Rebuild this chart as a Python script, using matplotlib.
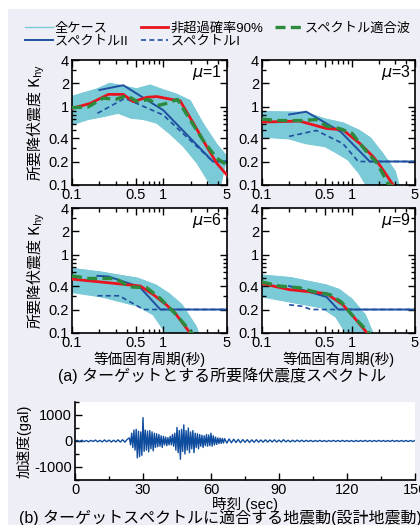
import matplotlib
matplotlib.use("Agg")
import matplotlib.pyplot as plt
import numpy as np
from matplotlib.patches import Rectangle
from matplotlib.ticker import FixedLocator, NullFormatter, MultipleLocator

plt.rcParams["font.family"] = ["Liberation Sans", "Noto Sans CJK JP"]
plt.rcParams["axes.unicode_minus"] = False

# ---- spectra data: period T (s), required yield coefficient K ----
mu_values = [1, 3, 6, 9]

# envelope of all cases (upper / lower edge)
all_upper_T = [
    [0.1, 0.19, 0.26, 0.365, 0.51, 0.72, 1.0, 1.4, 1.97, 2.75, 3.86, 5.0],
    [0.1, 0.3, 0.5, 0.8, 1.2, 1.6, 2.2, 3.0, 3.4],
    [0.1, 0.21, 0.53, 0.83, 1.15, 1.6, 2.3, 2.5],
    [0.1, 0.21, 0.52, 0.72, 1.0, 1.4, 1.7, 1.8],
]
all_upper_K = [
    [1.36, 1.7, 2.0, 1.85, 1.7, 1.9, 1.65, 1.45, 1.2, 0.6, 0.33, 0.23],
    [0.87, 0.85, 0.7, 0.62, 0.5, 0.4, 0.25, 0.15, 0.09],
    [0.67, 0.6, 0.5, 0.41, 0.32, 0.23, 0.12, 0.09],
    [0.55, 0.51, 0.41, 0.36, 0.27, 0.17, 0.1, 0.09],
]
all_lower_T = [
    [0.1, 0.15, 0.23, 0.32, 0.44, 0.61, 0.85, 1.19, 1.67, 2.35, 3.3, 4.0],
    [0.1, 0.2, 0.3, 0.5, 0.7, 0.9, 1.2, 1.5],
    [0.1, 0.21, 0.53, 0.78, 1.0, 1.1],
    [0.1, 0.2, 0.46, 0.66, 0.85, 0.9],
]
all_lower_K = [
    [0.59, 0.69, 0.76, 0.83, 0.72, 0.69, 0.62, 0.45, 0.31, 0.19, 0.1, 0.07],
    [0.41, 0.39, 0.34, 0.31, 0.25, 0.21, 0.14, 0.09],
    [0.33, 0.29, 0.22, 0.17, 0.11, 0.09],
    [0.29, 0.25, 0.21, 0.16, 0.1, 0.09],
]

# 90% non-exceedance
p90_T = [
    [0.1, 0.158, 0.25, 0.365, 0.47, 0.66, 0.85, 1.19, 1.53, 2.14, 3.0, 3.86, 5.0],
    [0.1, 0.26, 0.52, 0.79, 1.22, 1.72, 2.1, 2.86, 3.0],
    [0.1, 0.21, 0.56, 0.78, 1.08, 1.35, 1.97, 2.1],
    [0.1, 0.2, 0.52, 0.79, 1.0, 1.47, 1.6],
]
p90_K = [
    [0.96, 1.11, 1.45, 1.45, 1.17, 1.33, 1.36, 1.26, 1.2, 0.62, 0.31, 0.19, 0.134],
    [0.64, 0.66, 0.53, 0.51, 0.34, 0.23, 0.17, 0.1, 0.09],
    [0.49, 0.45, 0.40, 0.31, 0.23, 0.18, 0.1, 0.09],
    [0.43, 0.36, 0.32, 0.23, 0.17, 0.1, 0.09],
]

# spectrum-compatible wave
fit_T = [
    [0.1, 0.15, 0.22, 0.3, 0.4, 0.52, 0.69, 0.9, 1.05, 1.43, 1.96, 2.75, 3.86, 5.0],
    [0.1, 0.15, 0.28, 0.4, 0.52, 0.72, 1.0, 1.4, 1.9, 2.5, 3.1],
    [0.1, 0.15, 0.3, 0.43, 0.66, 0.92, 1.4, 2.05, 2.2],
    [0.1, 0.156, 0.26, 0.37, 0.57, 0.76, 1.0, 1.55, 1.65],
]
fit_K = [
    [0.98, 1.0, 1.3, 1.25, 1.4, 1.17, 1.25, 1.05, 1.1, 1.25, 0.69, 0.37, 0.22, 0.18],
    [0.70, 0.67, 0.67, 0.69, 0.57, 0.53, 0.46, 0.28, 0.19, 0.105, 0.09],
    [0.54, 0.5, 0.5, 0.39, 0.38, 0.28, 0.17, 0.1, 0.09],
    [0.45, 0.4, 0.38, 0.34, 0.31, 0.25, 0.17, 0.1, 0.09],
]

# design spectrum II / I
spec2_T = [
    [0.2, 0.365, 1.0, 3.5, 5.0],
    [0.2, 0.31, 0.75, 1.57, 5.0],
    [0.19, 0.25, 0.55, 0.93, 5.0],
    [0.2, 0.52, 0.7, 5.0],
]
spec2_K = [
    [1.65, 1.9, 0.91, 0.2, 0.2],
    [0.8, 0.87, 0.48, 0.2, 0.2],
    [0.54, 0.53, 0.39, 0.2, 0.2],
    [0.40, 0.29, 0.2, 0.2],
]
spec1_T = [
    [0.19, 0.38, 1.0, 3.5, 5.0],
    [0.2, 0.4, 0.79, 1.17, 5.0],
    [0.19, 0.33, 0.61, 5.0],
    [0.2, 0.28, 0.35, 5.0],
]
spec1_K = [
    [0.83, 1.29, 0.79, 0.2, 0.2],
    [0.42, 0.5, 0.34, 0.2, 0.2],
    [0.3, 0.3, 0.2, 0.2],
    [0.23, 0.22, 0.2, 0.2],
]

# ---- design ground motion: alternating peak accelerations (gal) ----
wave_quiet1 = [0, 25, -20, 30, -25, 20, -30, 25, -20, 35, -30, 25, -35, 40,
               -30, 35, -40, 30, -35, 45, -40, 50, -45, 60]
wave_strong = [120, -150, 300, -250, 420, -350, 450, -650, 380, -600, 350,
               -550, 900, -400, 420, -350, 380, -420, 400, -300, 350, -380,
               300, -250, 280, -220, 250, -200, 200, -250, 180, -150, 150,
               -180, 130, -150, 180, -150, 250, -200, 300, -350, 520, -450,
               400, -700, 450, -400, 620, -500, 400, -350, 500, -450, 350,
               -300, 400, -450, 300, -250, 280, -300, 250, -200, 220, -250,
               200, -180, 250, -200, 230, -180, 300, -200, 200, -150, 150,
               -130, 120, -100, 110, -90, 100, -80]
wave_quiet2 = [90, -80, 80, -70, 70, -60, 60, -65, 55, -50, 50, -55, 45, -50,
               50, -45, 40, -45, 45, -40, 40, -35, 45, -40, 35, -40, 50, -35,
               30, -35, 30, -30, 35, -25, 30, -25, 25, -20, 25, -25, 20, -20,
               25, -20, 20, -25, 20, -20, 25, -20, 20, -20, 25, -20, 20, -20,
               20, -25, 20, -20, 20, -20, 25, -20, 20, -20, 20, -20, 25, -20,
               20, -20, 20, -20, 25, -20, 20, -20, 20, -20, 20, -20, 20, -20,
               20]

C_ALL = "#7BCAD7"
C_P90 = "#E8131E"
C_FIT = "#2B8A3C"
C_SPEC = "#1F4FA0"
C_WAVE = "#0E4C9E"

fig = plt.figure(figsize=(4.2, 5.25), dpi=100)
fig.patch.set_facecolor("white")
fig.patches.append(Rectangle((8 / 420, 0), 1, 1 - 9 / 525, transform=fig.transFigure,
                             facecolor="#EEEEF6", edgecolor="none", zorder=-10))

W, H = 420.0, 525.0
boxes = [(72, 60, 227, 185), (262, 60, 415, 185),
         (72, 208, 227, 333), (262, 208, 415, 333)]

lines_for_legend = []
for i, (x0, y0, x1, y1) in enumerate(boxes):
    ax = fig.add_axes([x0 / W, 1 - y1 / H, (x1 - x0) / W, (y1 - y0) / H])
    ax.set_facecolor("white")
    poly_T = list(all_upper_T[i]) + list(all_lower_T[i])[::-1]
    poly_K = list(all_upper_K[i]) + list(all_lower_K[i])[::-1]
    ax.fill(poly_T, poly_K, color=C_ALL, lw=0.8, zorder=1)
    la, = ax.plot(all_upper_T[i], all_upper_K[i], color=C_ALL, lw=1.0, zorder=1)
    l2, = ax.plot(spec2_T[i], spec2_K[i], color=C_SPEC, lw=1.4, zorder=2)
    l1, = ax.plot(spec1_T[i], spec1_K[i], color=C_SPEC, lw=1.2,
                  ls=(0, (3, 2)), zorder=2)
    lp, = ax.plot(p90_T[i], p90_K[i], color=C_P90, lw=2.0, zorder=3)
    lf, = ax.plot(fit_T[i], fit_K[i], color=C_FIT, lw=2.4,
                  ls=(0, (3, 1.6)), zorder=4)
    lines_for_legend = [la, l2, lp, l1, lf]

    ax.set_xscale("log")
    ax.set_yscale("log")
    ax.set_xlim(0.1, 5)
    ax.set_ylim(0.1, 4)
    ax.xaxis.set_major_locator(FixedLocator([0.1, 0.5, 1, 5]))
    ax.xaxis.set_minor_locator(FixedLocator([0.2, 0.3, 0.4, 0.6, 0.7, 0.8, 0.9, 2, 3, 4]))
    ax.set_xticklabels(["0.1", "0.5", "1", "5"])
    ax.xaxis.set_minor_formatter(NullFormatter())
    ax.yaxis.set_major_locator(FixedLocator([0.1, 0.2, 0.4, 1, 2, 4]))
    ax.set_yticklabels(["0.1", "0.2", "0.4", "1", "2", "4"])
    ax.yaxis.set_minor_locator(FixedLocator([0.3, 0.5, 0.6, 0.7, 0.8, 0.9, 3]))
    ax.yaxis.set_minor_formatter(NullFormatter())
    ax.tick_params(which="both", direction="in", top=True, right=True,
                   labelsize=10.5, pad=2, width=1.0)
    ax.tick_params(which="major", length=5)
    ax.tick_params(which="minor", length=3)
    for sp in ax.spines.values():
        sp.set_linewidth(1.2)
    ax.text(0.97, 0.9, rf"$\mu$=$\mathregular{{{mu_values[i]}}}$",
            transform=ax.transAxes, ha="right", va="center", fontsize=11.5)
    if i % 2 == 0:
        ax.set_ylabel("所要降伏震度 K$_\\mathregular{hy}$", fontsize=10.8,
                      family="Noto Sans CJK JP", labelpad=1)
    if i >= 2:
        ax.set_xlabel("等価固有周期(秒)", fontsize=10.5, labelpad=1)

# ---- legend ----
labels = ["全ケース", "スペクトルII", "非超過確率90%", "スペクトルI", "スペクトル適合波"]
fig.legend(lines_for_legend, labels, ncol=3, loc="upper left",
           bbox_to_anchor=(16 / W, 1 - 13 / H), frameon=False, fontsize=9.5,
           handlelength=2.1, handletextpad=0.15, columnspacing=0.9,
           labelspacing=0.05, borderpad=0.2)

fig.text(222 / W, 1 - 376 / H, "(a) ターゲットとする所要降伏震度スペクトル",
         ha="center", va="center", fontsize=11.5)

# ---- ground motion ----
t_quiet1 = 1.0 * np.arange(len(wave_quiet1))
t_strong = 24 + 0.5 * np.arange(len(wave_strong))
t_quiet2 = 66 + 1.0 * np.arange(len(wave_quiet2))
wave_t = np.concatenate([t_quiet1, t_strong, t_quiet2])
wave_a = np.concatenate([wave_quiet1, wave_strong, wave_quiet2])

axw = fig.add_axes([75 / W, 1 - 480 / H, 340 / W, 78 / H])
axw.set_facecolor("white")
axw.plot(wave_t, wave_a, color=C_WAVE, lw=1.0)
axw.set_xlim(0, 150)
axw.set_ylim(-1500, 1500)
axw.xaxis.set_major_locator(MultipleLocator(30))
axw.xaxis.set_minor_locator(MultipleLocator(15))
axw.yaxis.set_major_locator(FixedLocator([-1000, 0, 1000]))
axw.yaxis.set_minor_locator(FixedLocator([-1500, -500, 500, 1500]))
axw.spines["top"].set_visible(False)
axw.spines["right"].set_visible(False)
axw.spines["left"].set_linewidth(1.2)
axw.spines["bottom"].set_linewidth(1.2)
axw.tick_params(which="both", direction="in", labelsize=10.5, pad=2, width=1.0)
axw.tick_params(which="major", length=5)
axw.tick_params(which="minor", length=3)
axw.set_ylabel("加速度(gal)", fontsize=10.5, labelpad=2)
axw.set_xlabel("時刻 (sec)", fontsize=10.5, labelpad=0)

fig.text(220 / W, 1 - 518 / H, "(b) ターゲットスペクトルに適合する地震動(設計地震動)",
         ha="center", va="center", fontsize=11.5)

fig.savefig("out.png", dpi=100)
